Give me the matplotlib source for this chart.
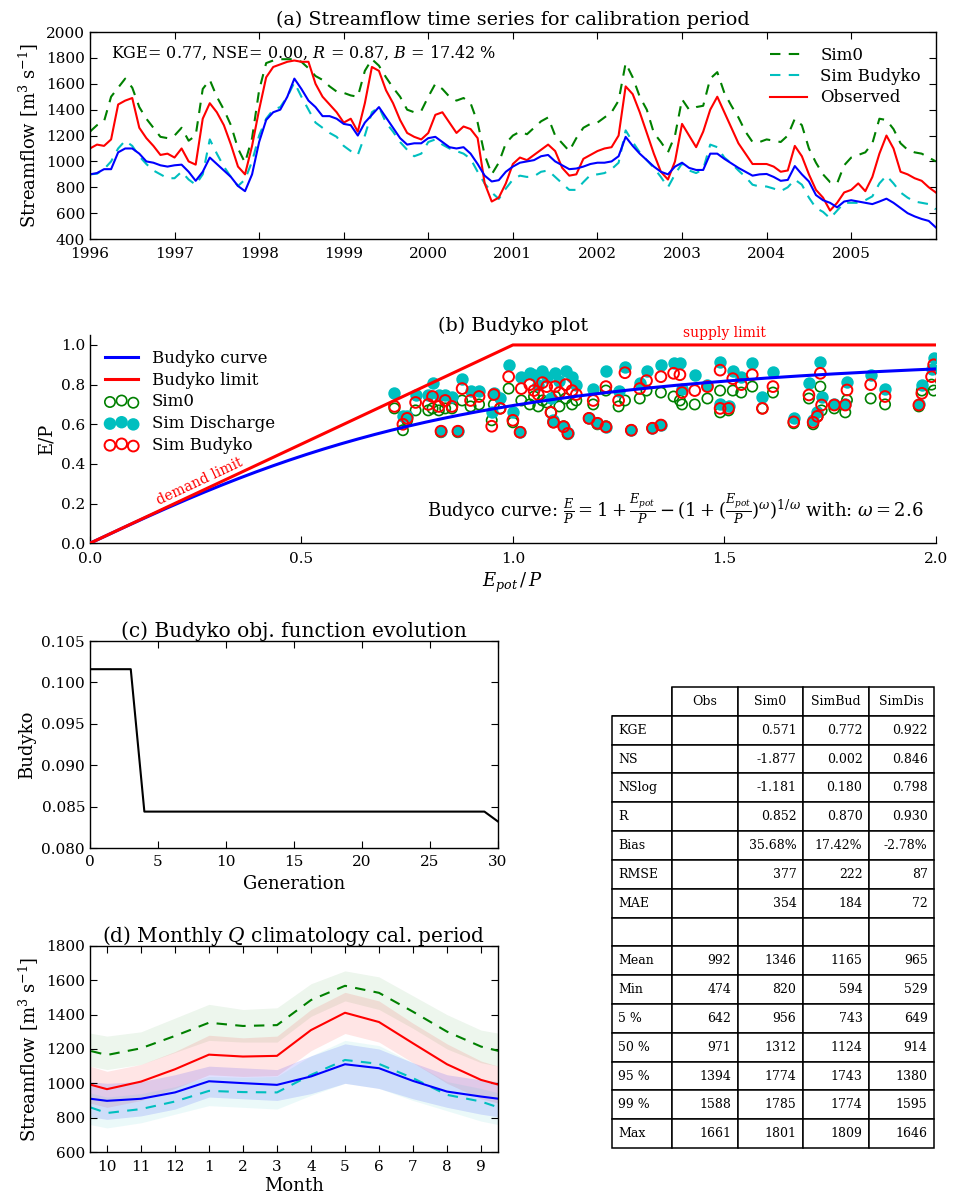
import matplotlib
matplotlib.use('Agg')
import matplotlib.pyplot as plt
import numpy as np

plt.rcParams['font.family'] = ['DejaVu Serif']
plt.rcParams['mathtext.fontset'] = 'dejavuserif'
plt.rcParams['axes.linewidth'] = 1.0
plt.rcParams['xtick.direction'] = 'in'
plt.rcParams['ytick.direction'] = 'in'
plt.rcParams['xtick.major.size'] = 5
plt.rcParams['ytick.major.size'] = 5
plt.rcParams['font.size'] = 11

# ---------------- (a) monthly streamflow, Jan 1996 .. Jan 2006 ----------------
years = [1996, 1997, 1998, 1999, 2000, 2001, 2002, 2003, 2004, 2005]
month_index = np.arange(121)

q_sim0 = [1230, 1280, 1310, 1500, 1570, 1640, 1570, 1420, 1330, 1260, 1190, 1180,
          1200, 1260, 1160, 1200, 1560, 1630, 1500, 1400, 1280, 1100, 990, 1180,
          1550, 1760, 1780, 1790, 1790, 1790, 1770, 1720, 1660, 1630, 1580, 1540,
          1530, 1510, 1500, 1700, 1790, 1740, 1650, 1570, 1500, 1400, 1380, 1390,
          1500, 1600, 1560, 1500, 1470, 1490, 1450, 1300, 1050, 900, 990, 1140,
          1200, 1230, 1210, 1260, 1310, 1340, 1200, 1140, 1080, 1180, 1260, 1290,
          1300, 1340, 1380, 1470, 1760, 1650, 1500, 1400, 1220, 1150, 1070, 1200,
          1480, 1400, 1420, 1430, 1640, 1690, 1530, 1430, 1340, 1230, 1150, 1150,
          1170, 1160, 1150, 1200, 1330, 1280, 1100, 990, 900, 840, 830, 970,
          1030, 1050, 1070, 1140, 1330, 1320, 1250, 1140, 1090, 1070, 1060, 1030,
          1000]
q_simbud = [900, 905, 940, 1000, 1100, 1160, 1120, 1040, 980, 930, 900, 870,
            870, 920, 860, 820, 900, 1170, 1060, 960, 880, 810, 860, 1000,
            1200, 1330, 1400, 1420, 1500, 1610, 1500, 1400, 1300, 1260, 1220, 1190,
            1120, 1080, 1050, 1200, 1380, 1420, 1300, 1230, 1150, 1090, 1040, 1060,
            1150, 1170, 1130, 1100, 1080, 1060, 1020, 920, 830, 760, 710, 790,
            860, 890, 880, 885, 920, 930, 880, 830, 780, 780, 840, 895,
            900, 910, 940, 990, 1240, 1150, 1070, 1010, 950, 880, 800, 900,
            985, 930, 910, 940, 1130, 1110, 1030, 985, 930, 880, 820, 806,
            806, 790, 770, 800, 860, 820, 720, 640, 610, 560, 620, 680,
            680, 680, 700, 730, 830, 890, 830, 760, 720, 690, 680, 670,
            630]
q_obs = [1100, 1130, 1120, 1170, 1440, 1470, 1490, 1260, 1180, 1120, 1050, 1060,
         1030, 1100, 1000, 975, 1330, 1450, 1380, 1280, 1130, 960, 900, 1120,
         1400, 1650, 1730, 1750, 1770, 1780, 1770, 1770, 1600, 1500, 1440, 1380,
         1300, 1330, 1230, 1450, 1730, 1700, 1550, 1450, 1320, 1220, 1190, 1170,
         1220, 1360, 1380, 1300, 1220, 1270, 1250, 1180, 830, 690, 720, 830,
         980, 1030, 1010, 1050, 1090, 1130, 1080, 950, 890, 900, 1020, 1050,
         1080, 1100, 1110, 1200, 1580, 1520, 1380, 1220, 1060, 920, 860, 1000,
         1290, 1200, 1110, 1230, 1400, 1500, 1380, 1260, 1140, 1060, 980, 980,
         980, 960, 920, 930, 1120, 1040, 900, 780, 720, 620, 680, 760,
         780, 830, 770, 880, 1060, 1200, 1100, 920, 900, 870, 850, 800,
         760]
q_simdis = [900, 910, 940, 940, 1070, 1100, 1100, 1060, 1000, 990, 970, 960,
            970, 975, 920, 850, 920, 1030, 980, 930, 880, 810, 770, 900,
            1150, 1320, 1380, 1400, 1500, 1640, 1560, 1470, 1420, 1350, 1350, 1330,
            1290, 1280, 1200, 1300, 1360, 1420, 1340, 1260, 1180, 1130, 1140, 1140,
            1180, 1190, 1150, 1110, 1100, 1110, 1060, 980, 890, 845, 855, 920,
            960, 990, 1000, 1010, 1040, 1050, 1000, 970, 940, 945, 960, 980,
            990, 990, 1000, 1040, 1190, 1120, 1060, 1010, 960, 920, 900, 960,
            990, 950, 934, 934, 1060, 1060, 1020, 985, 950, 920, 890, 900,
            903, 880, 850, 857, 964, 900, 845, 740, 700, 680, 645, 690,
            700, 690, 680, 670, 690, 712, 680, 640, 600, 575, 555, 540,
            490]

# ---------------- (b) Budyko space ----------------
omega = 2.6
limit_x = [0.0, 1.0, 2.0]
limit_y = [0.0, 1.0, 1.0]
budyko_x = [0.72, 0.74, 0.75, 0.77, 0.80, 0.81, 0.825, 0.83, 0.84, 0.856,
            0.87, 0.88, 0.90, 0.92, 0.95, 0.955, 0.97, 0.99, 1.00, 1.017,
            1.02, 1.04, 1.05, 1.06, 1.07, 1.08, 1.09, 1.096, 1.10, 1.11,
            1.12, 1.125, 1.13, 1.14, 1.15, 1.18, 1.19, 1.20, 1.22, 1.22,
            1.25, 1.265, 1.28, 1.30, 1.316, 1.33, 1.35, 1.35, 1.38, 1.395,
            1.40, 1.43, 1.46, 1.49, 1.49, 1.51, 1.52, 1.54, 1.566, 1.59,
            1.615, 1.664, 1.70, 1.71, 1.72, 1.727, 1.73, 1.76, 1.786, 1.79,
            1.846, 1.88, 1.96, 1.967, 1.995, 1.99]
sim0_ep = [0.68, 0.57, 0.62, 0.67, 0.67, 0.68, 0.67, 0.56, 0.68, 0.68,
           0.56, 0.72, 0.69, 0.70, 0.62, 0.70, 0.68, 0.78, 0.61, 0.56,
           0.72, 0.70, 0.74, 0.69, 0.72, 0.71, 0.66, 0.61, 0.74, 0.69,
           0.59, 0.73, 0.55, 0.70, 0.72, 0.63, 0.70, 0.60, 0.59, 0.77,
           0.69, 0.72, 0.57, 0.73, 0.77, 0.58, 0.596, 0.76, 0.74, 0.72,
           0.70, 0.70, 0.73, 0.77, 0.66, 0.67, 0.77, 0.76, 0.79, 0.68,
           0.76, 0.605, 0.73, 0.60, 0.64, 0.79, 0.67, 0.68, 0.66, 0.722,
           0.73, 0.70, 0.69, 0.77, 0.77, 0.80]
simdis_ep = [0.76, 0.64, 0.64, 0.75, 0.75, 0.81, 0.75, 0.565, 0.75, 0.74,
             0.565, 0.83, 0.77, 0.77, 0.66, 0.76, 0.73, 0.90, 0.66, 0.56,
             0.84, 0.86, 0.85, 0.80, 0.87, 0.84, 0.73, 0.62, 0.86, 0.82,
             0.588, 0.87, 0.554, 0.84, 0.80, 0.63, 0.78, 0.605, 0.587, 0.87,
             0.77, 0.89, 0.57, 0.81, 0.87, 0.58, 0.596, 0.90, 0.91, 0.91,
             0.78, 0.85, 0.80, 0.915, 0.70, 0.69, 0.87, 0.84, 0.91, 0.74,
             0.865, 0.63, 0.81, 0.62, 0.66, 0.915, 0.74, 0.70, 0.70, 0.815,
             0.848, 0.78, 0.70, 0.80, 0.932, 0.88]
simbud_ep = [0.69, 0.60, 0.63, 0.71, 0.70, 0.74, 0.69, 0.565, 0.72, 0.69,
             0.565, 0.78, 0.72, 0.74, 0.59, 0.75, 0.68, 0.84, 0.62, 0.56,
             0.78, 0.80, 0.77, 0.75, 0.81, 0.79, 0.66, 0.61, 0.79, 0.76,
             0.588, 0.80, 0.554, 0.77, 0.75, 0.63, 0.72, 0.605, 0.587, 0.79,
             0.72, 0.86, 0.57, 0.78, 0.82, 0.58, 0.596, 0.84, 0.857, 0.85,
             0.76, 0.77, 0.79, 0.873, 0.68, 0.68, 0.83, 0.80, 0.85, 0.68,
             0.79, 0.612, 0.748, 0.61, 0.64, 0.857, 0.697, 0.697, 0.697, 0.773,
             0.80, 0.74, 0.697, 0.756, 0.90, 0.84]

# ---------------- (c) objective function ----------------
generation = list(range(31))
budyko_obj = [0.1016, 0.1016, 0.1016, 0.1016, 0.0844, 0.0844, 0.0844, 0.0844,
              0.0844, 0.0844, 0.0844, 0.0844, 0.0844, 0.0844, 0.0844, 0.0844,
              0.0844, 0.0844, 0.0844, 0.0844, 0.0844, 0.0844, 0.0844, 0.0844,
              0.0844, 0.0844, 0.0844, 0.0844, 0.0844, 0.0844, 0.0832]

# ---------------- (d) monthly climatology (Oct .. Sep) ----------------
month_labels = ['10', '11', '12', '1', '2', '3', '4', '5', '6', '7', '8', '9']
clim_sim0 = [1165, 1204, 1276, 1353, 1334, 1339, 1485, 1568, 1527, 1417, 1301, 1214]
clim_sim0_lo = [1080, 1110, 1180, 1250, 1240, 1240, 1390, 1480, 1430, 1320, 1200, 1120]
clim_sim0_hi = [1275, 1300, 1380, 1460, 1430, 1440, 1580, 1655, 1620, 1510, 1400, 1310]
clim_obs = [966, 1010, 1082, 1167, 1156, 1160, 1310, 1411, 1357, 1233, 1111, 1020]
clim_obs_lo = [860, 900, 970, 1050, 1040, 1045, 1190, 1290, 1240, 1120, 1000, 910]
clim_obs_hi = [1070, 1110, 1185, 1280, 1265, 1275, 1430, 1530, 1480, 1350, 1230, 1130]
clim_simdis = [898, 910, 947, 1012, 1001, 991, 1040, 1111, 1088, 1014, 952, 923]
clim_simdis_lo = [790, 810, 850, 920, 910, 900, 940, 1000, 970, 910, 860, 820]
clim_simdis_hi = [1000, 1010, 1050, 1100, 1090, 1080, 1160, 1230, 1200, 1120, 1050, 1020]
clim_simbud = [827, 850, 894, 956, 949, 947, 1049, 1136, 1113, 1030, 933, 894]
clim_simbud_lo = [740, 770, 820, 870, 860, 850, 930, 1000, 970, 900, 840, 780]
clim_simbud_hi = [920, 940, 980, 1040, 1035, 1040, 1160, 1250, 1220, 1120, 1010, 970]

# ---------------- table ----------------
col_names = ['', 'Obs', 'Sim0', 'SimBud', 'SimDis']
stat_names = ['KGE', 'NS', 'NSlog', 'R', 'Bias', 'RMSE', 'MAE', '',
              'Mean', 'Min', '5 %', '50 %', '95 %', '99 %', 'Max']
obs_stats = ['', '', '', '', '', '', '', '', '992', '474', '642', '971', '1394', '1588', '1661']
sim0_stats = ['0.571', '-1.877', '-1.181', '0.852', '35.68%', '377', '354', '',
              '1346', '820', '956', '1312', '1774', '1785', '1801']
simbud_stats = ['0.772', '0.002', '0.180', '0.870', '17.42%', '222', '184', '',
                '1165', '594', '743', '1124', '1743', '1774', '1809']
simdis_stats = ['0.922', '0.846', '0.798', '0.930', '-2.78%', '87', '72', '',
                '965', '529', '649', '914', '1380', '1595', '1646']

fig = plt.figure(figsize=(9.59, 12), dpi=100)

# (a)
ax = fig.add_axes([0.0938, 0.8008, 0.882, 0.1725])
t = years[0] + month_index / 12.0
ax.plot(t, q_sim0, color='g', ls='--', dashes=(5, 4), lw=1.5, label='Sim0')
ax.plot(t, q_simbud, color='c', ls='--', dashes=(5, 4), lw=1.5, label='Sim Budyko')
ax.plot(t, q_obs, color='r', lw=1.5, label='Observed')
ax.plot(t, q_simdis, color='b', lw=1.5)
ax.set_xlim(1996, 2006)
ax.set_ylim(400, 2000)
ax.set_xticks(years)
ax.set_xticklabels([str(y) for y in years])
ax.set_yticks(np.arange(400, 2001, 200))
ax.tick_params(top=True, right=True, labelsize=11)
ax.tick_params(axis='x', pad=6)
ax.set_ylabel('Streamflow [m$^3$ s$^{-1}$]', fontsize=13)
ax.set_title('(a) Streamflow time series for calibration period', fontsize=13.8, pad=5)
ax.text(0.025, 0.9, 'KGE= 0.77, NSE= 0.00, $R$ = 0.87, $B$ = 17.42 %',
        transform=ax.transAxes, va='center', fontsize=11.5)
ax.legend(loc='upper right', frameon=False, fontsize=12, handlelength=2.2,
          borderaxespad=0.5, labelspacing=0.25)

# (b)
ax = fig.add_axes([0.0938, 0.5473, 0.882, 0.1735])
ax.scatter(budyko_x, sim0_ep, s=55, facecolors='none', edgecolors='g', lw=1.2, label='Sim0', zorder=2)
ax.scatter(budyko_x, simdis_ep, s=60, facecolors='c', edgecolors='c', lw=1.2, label='Sim Discharge', zorder=2)
ax.scatter(budyko_x, simbud_ep, s=60, facecolors='none', edgecolors='r', lw=1.4, label='Sim Budyko', zorder=2)
phi = np.linspace(0.0, 2.0, 200)
ax.plot(phi, 1 + phi - (1 + phi ** omega) ** (1 / omega), color='b', lw=2.2,
        label='Budyko curve', zorder=3)
ax.plot(limit_x, limit_y, color='r', lw=2.2, label='Budyko limit', zorder=3)
ax.set_xlim(0, 2)
ax.set_ylim(0, 1.05)
ax.set_xticks([0.0, 0.5, 1.0, 1.5, 2.0])
ax.set_yticks([0.0, 0.2, 0.4, 0.6, 0.8, 1.0])
ax.spines['top'].set_visible(False)
ax.spines['right'].set_visible(False)
ax.tick_params(top=False, right=False, labelsize=11)
ax.tick_params(axis='x', pad=6)
ax.set_xlabel('$E_{pot}\\,/\\,P$', fontsize=13)
ax.set_ylabel('E/P', fontsize=13)
ax.set_title('(b) Budyko plot', fontsize=13.8, pad=2)
ax.text(0.26, 0.31, 'demand limit', color='r', fontsize=10, rotation=45,
        transform_rotates_text=True, rotation_mode='anchor', ha='center', va='center')
ax.text(1.5, 1.06, 'supply limit', color='r', fontsize=10, ha='center', va='center')
ax.text(1.97, 0.17, 'Budyco curve: $\\frac{E}{P} = 1 + \\frac{E_{pot}}{P} - (1 + (\\frac{E_{pot}}{P})^{\\omega})^{1/\\omega}$ with: $\\omega = 2.6$',
        ha='right', va='center', fontsize=13)
h, l = ax.get_legend_handles_labels()
order = [3, 4, 0, 1, 2]
ax.legend([h[i] for i in order], [l[i] for i in order], loc='upper left', frameon=False,
          fontsize=12, scatterpoints=3, handlelength=2.0, labelspacing=0.28,
          bbox_to_anchor=(0.0, 1.0))

# (c)
ax = fig.add_axes([0.0938, 0.2933, 0.4255, 0.1725])
ax.plot(generation, budyko_obj, color='k', lw=1.5)
ax.set_xlim(0, 30)
ax.set_ylim(0.080, 0.105)
ax.set_xticks(range(0, 31, 5))
ax.set_yticks([0.080, 0.085, 0.090, 0.095, 0.100, 0.105])
ax.set_yticklabels(['%.3f' % v for v in [0.080, 0.085, 0.090, 0.095, 0.100, 0.105]])
ax.tick_params(top=True, right=True, labelsize=11)
ax.tick_params(axis='x', pad=5)
ax.set_xlabel('Generation', fontsize=13)
ax.set_ylabel('Budyko', fontsize=13)
ax.set_title('(c) Budyko obj. function evolution', fontsize=14.5, pad=3)

# (d)
ax = fig.add_axes([0.0938, 0.04, 0.4255, 0.1717])
xm = np.arange(-1, 13)


def wrap(v):
    return [v[-1]] + list(v) + [v[0]]


ax.fill_between(xm, wrap(clim_sim0_lo), wrap(clim_sim0_hi), color='g', alpha=0.07, lw=0)
ax.fill_between(xm, wrap(clim_obs_lo), wrap(clim_obs_hi), color='r', alpha=0.1, lw=0)
ax.fill_between(xm, wrap(clim_simdis_lo), wrap(clim_simdis_hi), color='b', alpha=0.12, lw=0)
ax.fill_between(xm, wrap(clim_simbud_lo), wrap(clim_simbud_hi), color='c', alpha=0.08, lw=0)
ax.plot(xm, wrap(clim_sim0), color='g', ls='--', dashes=(5, 4), lw=1.5)
ax.plot(xm, wrap(clim_simbud), color='c', ls='--', dashes=(5, 4), lw=1.5)
ax.plot(xm, wrap(clim_obs), color='r', lw=1.5)
ax.plot(xm, wrap(clim_simdis), color='b', lw=1.5)
ax.set_xlim(-0.5, 11.5)
ax.set_ylim(600, 1800)
ax.set_xticks(range(12))
ax.set_xticklabels(month_labels)
ax.set_yticks(range(600, 1801, 200))
ax.tick_params(top=True, right=True, labelsize=11)
ax.tick_params(axis='x', pad=6)
ax.set_xlabel('Month', fontsize=13, labelpad=2)
ax.set_ylabel('Streamflow [m$^3$ s$^{-1}$]', fontsize=13)
ax.set_title('(d) Monthly $Q$ climatology cal. period', fontsize=14.5, pad=3)

# table
tax = fig.add_axes([0.638, 0.0433, 0.336, 0.3842])
tax.axis('off')
cell_text = [list(r) for r in zip(stat_names, obs_stats, sim0_stats, simbud_stats, simdis_stats)]
tbl = tax.table(cellText=cell_text, colLabels=col_names,
                cellLoc='right', colLoc='center', bbox=[0, 0, 1, 1])
tbl.auto_set_font_size(False)
tbl.set_fontsize(9)
widths = [60, 66, 65, 66, 65]
for (r, c), cell in tbl.get_celld().items():
    cell.set_width(widths[c])
    cell.set_linewidth(1.1)
    if c == 0:
        cell.set_text_props(ha='left')
    if r == 0:
        cell.set_text_props(ha='center')
tbl[0, 0].visible_edges = 'BR'

fig.savefig('out.png', dpi=100)
